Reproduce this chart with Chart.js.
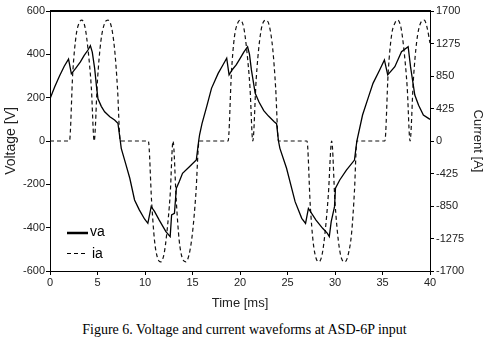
<!DOCTYPE html>
<html><head><meta charset="utf-8">
<script src="https://cdn.jsdelivr.net/npm/chart.js@4"></script>
<style>
html,body{margin:0;padding:0;background:#fff;}
#wrap{position:relative;width:489px;height:315px;}
#cap{width:489px;height:30px;line-height:30px;text-align:center;font-family:"Liberation Serif","Times New Roman",serif;font-size:14px;color:#000;padding-right:0;}
</style></head><body>
<div id="wrap"><canvas id="c" width="489" height="315"></canvas></div>
<div id="cap">Figure 6. Voltage and current waveforms at ASD-6P input</div>
<script>
// Voltage va [V] vs time [ms]
const vaTime = [0,0.5,1.0,1.5,1.95,2.25,2.7,3.2,3.6,4.0,4.25,4.45,4.7,4.9,5.05,5.4,5.75,6.3,6.8,7.15,7.4,7.5,8.0,8.4,8.9,9.4,9.95,10.3,10.65,11.0,11.5,12.2,12.65,12.8,13.1,13.3,13.6,13.95,14.7,15.4,15.65,15.75,16.0,16.5,17.0,17.7,18.2,18.6,18.85,19.2,19.6,20.0,20.4,20.8,21.0,21.2,21.6,22.0,22.5,23.0,23.6,23.85,24.05,24.2,24.9,25.8,26.5,26.9,27.2,28.0,28.7,29.2,29.4,29.6,29.95,30.05,30.5,31.2,32.05,32.3,32.9,33.5,34.0,34.7,35.2,35.55,36.3,37.0,37.7,37.95,38.4,38.8,39.3,40];
const vaVolt = [195,250,300,345,378,310,335,365,395,420,440,410,335,250,195,160,135,112,97,82,0,-34,-110,-172,-272,-318,-360,-380,-303,-325,-365,-418,-441,-341,-334,-218,-188,-149,-118,-88,0,30,80,160,243,312,351,382,305,330,351,380,410,435,400,328,220,180,140,115,89,80,0,-34,-126,-280,-357,-380,-311,-365,-403,-426,-441,-372,-303,-218,-180,-134,-88,0,120,200,266,328,374,305,343,412,435,343,212,165,120,100];
// Current ia [A] vs time [ms]
const iaTime = [0,2.05,2.4,2.75,3.05,3.35,3.7,4.0,4.35,4.65,5.0,5.35,5.75,6.1,6.45,6.8,7.1,7.4,10.35,10.7,11.0,11.3,11.65,12.0,12.3,12.65,12.95,13.3,13.6,13.95,14.3,14.65,15.0,15.35,15.7,18.75,19.1,19.4,19.75,20.05,20.4,20.7,21.05,21.35,21.7,22.05,22.4,22.75,23.1,23.45,23.75,24.05,27.05,27.4,27.7,28.0,28.3,28.65,28.95,29.3,29.65,30.0,30.35,30.7,31.05,31.4,31.75,32.05,32.3,35.25,35.6,35.95,36.3,36.6,36.95,37.25,37.6,37.9,38.25,38.6,39.0,39.4,39.7,40];
const iaAmp = [0,0,900,1380,1540,1580,1480,1200,700,0,800,1300,1540,1580,1500,1200,700,0,0,-800,-1300,-1520,-1580,-1480,-1200,-700,0,-800,-1300,-1540,-1580,-1480,-1200,-700,0,0,900,1350,1540,1580,1480,1200,700,0,800,1300,1540,1580,1500,1200,700,0,0,-850,-1320,-1530,-1580,-1480,-1200,-700,0,-800,-1300,-1540,-1580,-1480,-1200,-650,0,0,900,1380,1540,1580,1480,1200,700,0,800,1300,1540,1580,1480,1280];
const voltTicks = [-600,-400,-200,0,200,400,600];
const currTicks = [-1700,-1275,-850,-425,0,425,850,1275,1700];
const timeTicks = [0,5,10,15,20,25,30,35,40];
const seriesNames = ['va','ia'];

const vaData = vaTime.map((t,i)=>({x:t,y:vaVolt[i]}));
const iaData = iaTime.map((t,i)=>({x:t,y:iaAmp[i]}));

const tickFont = {family:'"Liberation Sans", Arial, sans-serif', size:11};
const titleFont = {family:'"Liberation Sans", Arial, sans-serif', size:13};
const plain = v => String(v);

const boxLegend = {
  id:'boxLegend',
  afterDraw(chart){
    const ctx = chart.ctx, a = chart.chartArea;
    ctx.save();
    ctx.strokeStyle = '#000'; ctx.setLineDash([]);
    ctx.fillStyle = '#000';
    ctx.fillRect(Math.round(a.left), Math.round(a.top)-1, Math.round(a.right-a.left)+1, 2);
    const x0 = a.left+17, x1 = a.left+38;
    ctx.lineWidth = 2.5;
    ctx.beginPath(); ctx.moveTo(x0, 233); ctx.lineTo(x1, 233); ctx.stroke();
    ctx.lineWidth = 1; ctx.setLineDash([4,3]);
    ctx.beginPath(); ctx.moveTo(x0, 253.5); ctx.lineTo(x1, 253.5); ctx.stroke();
    ctx.setLineDash([]);
    ctx.font = '14px "Liberation Sans", Arial, sans-serif';
    ctx.textBaseline = 'middle'; ctx.textAlign = 'left';
    ctx.fillText(seriesNames[0], x1+2, 232);
    ctx.fillText(seriesNames[1], x1+4, 254);
    ctx.restore();
  }
};

new Chart(document.getElementById('c'), {
  type:'line',
  data:{datasets:[
    {label:seriesNames[0], data:vaData, yAxisID:'y', borderColor:'#000', borderWidth:1.3, pointRadius:0, tension:0, fill:false},
    {label:seriesNames[1], data:iaData, yAxisID:'y1', borderColor:'#111', borderWidth:1.2, borderDash:[4,3], pointRadius:0, cubicInterpolationMode:'monotone', fill:false}
  ]},
  options:{
    responsive:false, animation:false, devicePixelRatio:1,
    layout:{padding:{top:11,left:0,right:0,bottom:0}},
    plugins:{legend:{display:false}, tooltip:{enabled:false}},
    scales:{
      x:{type:'linear', position:'bottom', min:0, max:40,
        afterBuildTicks:s=>{s.ticks = timeTicks.map(v=>({value:v}));},
        afterFit:s=>{s.height=44;},
        ticks:{font:tickFont, color:'#222', padding:1, maxRotation:0, callback:plain},
        grid:{drawOnChartArea:false, drawTicks:true, tickLength:4, color:'#000'},
        border:{display:true, color:'#000', width:1},
        title:{display:true, text:'Time [ms]', font:titleFont, color:'#222', padding:4}},
      y:{type:'linear', position:'left', min:-600, max:600,
        afterBuildTicks:s=>{s.ticks = voltTicks.map(v=>({value:v}));},
        afterFit:s=>{s.width=50;},
        ticks:{font:tickFont, color:'#222', padding:1, callback:plain},
        grid:{drawOnChartArea:false, drawTicks:true, tickLength:4, color:'#000'},
        border:{display:true, color:'#000', width:1},
        title:{display:true, text:'Voltage [V]', font:{family:'"Liberation Sans", Arial, sans-serif', size:14}, color:'#222', padding:3}},
      y1:{type:'linear', position:'right', min:-1700, max:1700,
        afterBuildTicks:s=>{s.ticks = currTicks.map(v=>({value:v}));},
        afterFit:s=>{s.width=59;},
        ticks:{font:tickFont, color:'#222', padding:2, callback:plain},
        grid:{drawOnChartArea:false, drawTicks:true, tickLength:4, color:'#000'},
        border:{display:true, color:'#000', width:1},
        title:{display:true, text:'Current [A]', font:titleFont, color:'#222', padding:4}}
    }
  },
  plugins:[boxLegend]
});
</script>
</body></html>
